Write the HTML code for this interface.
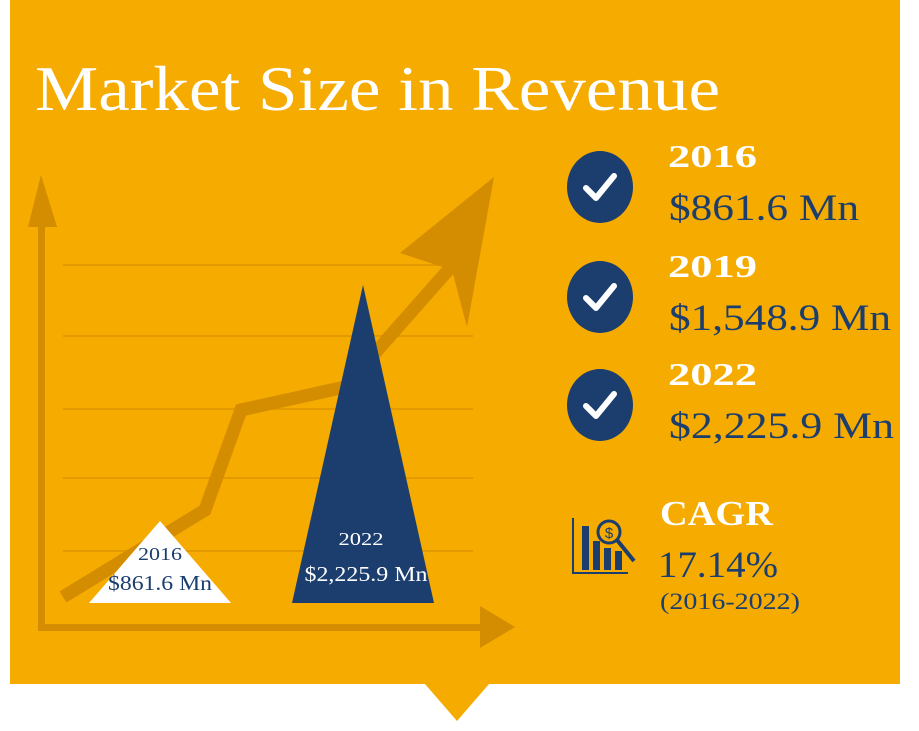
<!DOCTYPE html>
<html><head><meta charset="utf-8"><style>
body{margin:0;background:#fff;}
svg{display:block;font-family:"Liberation Serif",serif;}
</style></head><body>
<svg width="919" height="731" viewBox="0 0 919 731">
<rect x="10" y="0" width="890" height="684" fill="#f5ab00"/>
<polygon points="425,684 489,684 457,721" fill="#f5ab00"/>
<text x="35" y="110" font-size="64" fill="#fff" textLength="685" lengthAdjust="spacingAndGlyphs">Market Size in Revenue</text>
<g id="chart"></g>
<g id="stats"></g>
<g fill="none" stroke="#1b3e6e" stroke-width="2">
<line x1="573" y1="518" x2="573" y2="573"/><line x1="572" y1="573" x2="628" y2="573"/>
<rect x="583" y="527" width="5" height="42" fill="#1b3e6e"/>
<rect x="594" y="542" width="5" height="27" fill="#1b3e6e"/>
<rect x="605" y="549" width="5" height="20" fill="#1b3e6e"/>
<rect x="616" y="552" width="5" height="17" fill="#1b3e6e"/>
<circle cx="609" cy="532" r="11" fill="#f5ab00" stroke-width="3"/>
<line x1="617" y1="540" x2="634" y2="561" stroke-width="4"/>
<text x="609" y="538" font-size="15" fill="#1b3e6e" stroke="none" text-anchor="middle" font-family="Liberation Sans,sans-serif">$</text>
</g>
<text x="660" y="525" font-size="35" font-weight="bold" fill="#fff" textLength="113" lengthAdjust="spacingAndGlyphs">CAGR</text>
<text x="658" y="577" font-size="37" fill="#1b3e6e" textLength="120" lengthAdjust="spacingAndGlyphs">17.14%</text>
<text x="660" y="609" font-size="23" fill="#1b3e6e" textLength="140" lengthAdjust="spacingAndGlyphs">(2016-2022)</text>
</svg>
<script>
const years=["2016","2022"];
const values=[861.6,2225.9];
const labels=["$861.6 Mn","$2,225.9 Mn"];
const statYears=["2016","2019","2022"];
const statLabels=["$861.6 Mn","$1,548.9 Mn","$2,225.9 Mn"];
const NS="http://www.w3.org/2000/svg";
function mk(t,a,p){const e=document.createElementNS(NS,t);for(const k in a)e.setAttribute(k,a[k]);p.appendChild(e);return e;}
const chart=document.getElementById('chart');
const grid=[265,336,409,478,551];
grid.forEach(y=>{const l=mk('line',{x1:63,x2:473,y1:y,y2:y,stroke:'#e39a00','stroke-width':2},chart);

});
const ax=mk('g',{fill:'#d48c00',stroke:'none'},chart);


mk('rect',{x:38,y:200,width:7,height:431},ax);
mk('polygon',{points:'28,227 41,175 57,227'},ax);
mk('rect',{x:38,y:624,width:450,height:7},ax);
mk('polygon',{points:'480,606 515,627 480,648'},ax);
const tr=mk('g',{},chart);


mk('polyline',{points:'63,597 205,510 241,410 345,387 450,268',fill:'none',stroke:'#d48c00','stroke-width':13,'stroke-linejoin':'miter'},tr);
mk('polygon',{points:'400,253 494,177 467,327 452,270',fill:'#d48c00'},tr);
const baseY=603, bx=[160,363], hw=[71,71];
function yScale(v){return baseY-(v-388)*(318/(2225.9-388));}
const fills=['#fff','#1b3e6e'], tc=['#1b3e6e','#fff'];
const w1=[44,45], w2=[104,123];
years.forEach((yr,i)=>{
 const g=mk('g',{},chart);
 
 
 const top=yScale(values[i]);
 mk('polygon',{points:`${bx[i]-hw[i]},${baseY} ${bx[i]},${top} ${bx[i]+hw[i]},${baseY}`,fill:fills[i]},g);
 const t1=mk('text',{x:bx[i]-(i?2:0),y:i?545:560,'font-size':18,fill:tc[i],'text-anchor':'middle',textLength:w1[i],lengthAdjust:'spacingAndGlyphs'},g);t1.textContent=yr;
 const t2=mk('text',{x:bx[i]+(i?3:0),y:i?581:590,'font-size':21,fill:tc[i],'text-anchor':'middle',textLength:w2[i],lengthAdjust:'spacingAndGlyphs'},g);t2.textContent=labels[i];
});
const stats=document.getElementById('stats');
const cy=[187,297,405];
const vw=[190,222,225];
statYears.forEach((yr,i)=>{
 const g=mk('g',{},stats);
 
 
 mk('ellipse',{cx:600,cy:cy[i],rx:33,ry:36,fill:'#1b3e6e'},g);
 mk('polyline',{points:`${586},${cy[i]+1} ${596},${cy[i]+11} ${614},${cy[i]-11}`,fill:'none',stroke:'#fff','stroke-width':6,'stroke-linecap':'round','stroke-linejoin':'round'},g);
 const a=mk('text',{x:668,y:cy[i]-20,'font-size':32,'font-weight':'bold',fill:'#fff',textLength:89,lengthAdjust:'spacingAndGlyphs'},g);a.textContent=yr;
 const b=mk('text',{x:669,y:cy[i]+33,'font-size':37,fill:'#1b3e6e',textLength:vw[i],lengthAdjust:'spacingAndGlyphs'},g);b.textContent=statLabels[i];
});
</script>
</body></html>
